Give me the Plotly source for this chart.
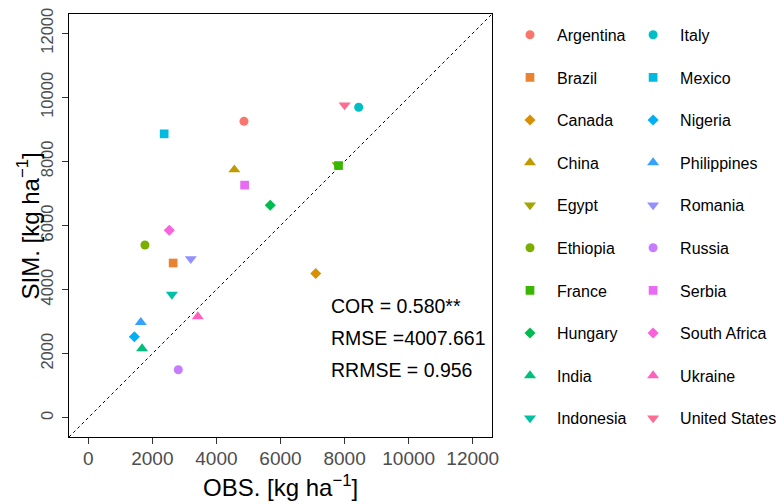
import plotly.graph_objects as go

countries = ["Argentina", "Brazil", "Canada", "China", "Egypt", "Ethiopia", "France",
             "Hungary", "India", "Indonesia", "Italy", "Mexico", "Nigeria", "Philippines",
             "Romania", "Russia", "Serbia", "South Africa", "Ukraine", "United States"]
obs = [4860, 2650, 7100, 4560, 7780, 1770, 7810, 5680, 1680, 2610,
       8440, 2370, 1440, 1640, 3200, 2810, 4880, 2530, 3420, 8000]
sim = [9250, 4830, 4500, 7740, 7890, 5390, 7870, 6630, 2160, 3850,
       9690, 8860, 2530, 2980, 4960, 1500, 7260, 5850, 3160, 9760]
colors = ["#F8766D", "#EA8331", "#D89000", "#C09B00", "#A3A500", "#7CAE00", "#39B600",
          "#00BB4E", "#00BF7D", "#00C1A3", "#00BFC4", "#00BAE0", "#00B0F6", "#35A2FF",
          "#9590FF", "#C77CFF", "#E76BF3", "#FA62DB", "#FF62BC", "#FF6C91"]
symbols_cycle = ["circle", "square", "diamond", "triangle-up", "triangle-down"]
sizes_cycle = [9, 8.7, 8.5, 10.5, 10.5]
tick_vals = [0, 2000, 4000, 6000, 8000, 10000, 12000]
tick_text = ["0", "2000", "4000", "6000", "8000", "10000", "12000"]
stats_text = ["COR = 0.580**", "RMSE =4007.661", "RRMSE = 0.956"]
stats_y = [3500, 2500, 1500]
stats_x = 7500
axis_range = [-600, 12600]
x_title = "OBS. [kg ha<sup>−1</sup>]"
y_title = "SIM. [kg ha<sup>−1</sup>]"

FONT = "Liberation Sans, Arial, sans-serif"

fig = go.Figure()
for i, c in enumerate(countries):
    fig.add_trace(go.Scatter(
        x=[obs[i]], y=[sim[i]], mode="markers", name=c,
        legendgroup=c,
        legend="legend" if i < 10 else "legend2",
        marker=dict(color=colors[i], symbol=symbols_cycle[i % 5],
                    size=sizes_cycle[i % 5], line=dict(width=0)),
        hoverinfo="skip",
    ))

fig.add_shape(type="line", xref="x", yref="y",
              x0=axis_range[0], y0=axis_range[0], x1=axis_range[1], y1=axis_range[1],
              line=dict(color="black", width=1, dash="3px,3px"), layer="below")

for t, yv in zip(stats_text, stats_y):
    fig.add_annotation(x=stats_x, y=yv, xref="x", yref="y", text=t, showarrow=False,
                       xanchor="left", yanchor="middle",
                       font=dict(family=FONT, size=19.5, color="black"))

# axis titles
fig.add_annotation(x=0.5, y=-0.117, xref="paper", yref="paper", text=x_title,
                   showarrow=False, xanchor="center", yanchor="middle",
                   font=dict(family=FONT, size=24, color="black"))
fig.add_annotation(x=-0.097, y=0.5, xref="paper", yref="paper", text=y_title,
                   showarrow=False, xanchor="center", yanchor="middle", textangle=-90,
                   font=dict(family=FONT, size=24, color="black"))

axis_common = dict(
    range=axis_range, tickvals=tick_vals, ticktext=tick_text, ticks="outside", ticklen=6,
    tickwidth=1.3, tickcolor="#333333", showgrid=False, zeroline=False, showline=True,
    linecolor="black", linewidth=1.1, mirror=True, automargin=False,
    ticklabeloverflow="allow",
)

legend_common = dict(
    font=dict(family=FONT, size=16, color="black"),
    bgcolor="rgba(0,0,0,0)", tracegroupgap=18.8, xanchor="left", yanchor="top",
    orientation="v", itemclick=False, itemdoubleclick=False, maxheight=600,
    itemwidth=44,
)

# page body has an 8px margin; figure is sized so it fits the 784x504 window
fig.update_layout(
    width=776, height=496,
    paper_bgcolor="white", plot_bgcolor="white",
    margin=dict(l=61, r=292, t=6, b=66.5, autoexpand=False),
    font=dict(family=FONT, color="black"),
    xaxis=dict(axis_common, ticklabelstandoff=-2,
               tickfont=dict(family=FONT, size=19, color="#4D4D4D")),
    yaxis=dict(axis_common, tickangle=-90, ticklabelstandoff=2,
               tickfont=dict(family=FONT, size=16.5, color="#4D4D4D")),
    legend=dict(legend_common, x=1.026, y=0.991),
    legend2=dict(legend_common, x=1.317, y=0.991),
    showlegend=True,
)

fig.write_html("out.html", config={"displayModeBar": False})
